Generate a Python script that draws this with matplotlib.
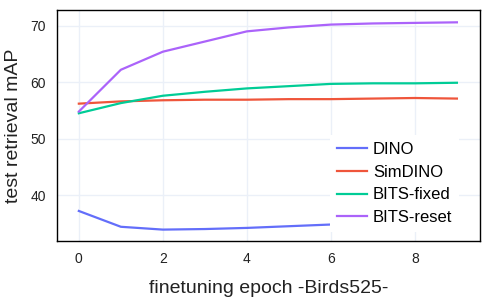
import matplotlib.pyplot as plt

plt.rcParams['font.family'] = ['Liberation Sans', 'DejaVu Sans']

epochs = [0, 1, 2, 3, 4, 5, 6, 7, 8, 9]
dino = [37.2, 34.4, 33.9, 34.0, 34.2, 34.5, 34.8, 35.0, 35.1, 35.2]
simdino = [56.2, 56.6, 56.8, 56.9, 56.9, 57.0, 57.0, 57.1, 57.2, 57.1]
bits_fixed = [54.5, 56.3, 57.6, 58.3, 58.9, 59.3, 59.7, 59.8, 59.8, 59.9]
bits_reset = [54.8, 62.2, 65.4, 67.2, 69.0, 69.7, 70.2, 70.4, 70.5, 70.6]

series = [("DINO", dino, "#636efa"),
          ("SimDINO", simdino, "#EF553B"),
          ("BITS-fixed", bits_fixed, "#00cc96"),
          ("BITS-reset", bits_reset, "#ab63fa")]

fig = plt.figure(figsize=(5, 3), dpi=100)
ax = fig.add_axes([0.114, 0.197, 0.846, 0.77])

for name, vals, color in series:
    ax.plot(epochs, vals, color=color, linewidth=1.6, label=name)

ax.set_xlim(-0.52, 9.55)
ax.set_ylim(31.9, 72.8)
ax.set_xticks([0, 2, 4, 6, 8])
ax.set_yticks([40, 50, 60, 70])
ax.grid(True, color="#ebf0f8", linewidth=1)
ax.set_axisbelow(True)
ax.tick_params(length=0, labelsize=10, pad=8, colors="#222222")
for sp in ax.spines.values():
    sp.set_linewidth(1.0)
    sp.set_color("black")

ax.set_xlabel("finetuning epoch -Birds525-", fontsize=14, labelpad=10, color="#222222")
ax.set_ylabel("test retrieval mAP", fontsize=14, labelpad=6, color="#222222")

leg = ax.legend(loc="lower right", fontsize=12, frameon=True, fancybox=False,
                edgecolor="white", framealpha=1, handlelength=1.8,
                handletextpad=0.36, labelspacing=0.47, borderaxespad=0.0,
                borderpad=0.4, bbox_to_anchor=(0.95, 0.039))
leg.get_frame().set_linewidth(0)

fig.savefig("out.png", dpi=100)
